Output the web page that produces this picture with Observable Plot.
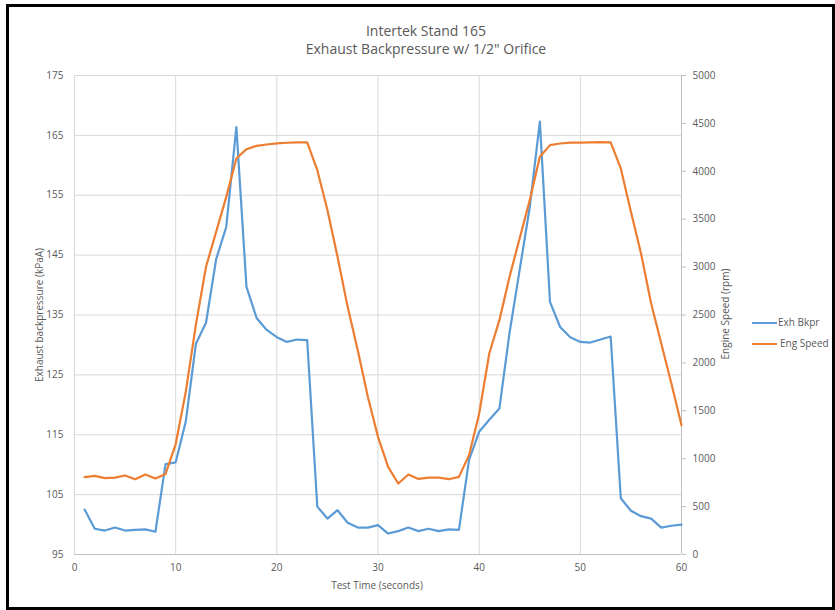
<!DOCTYPE html>
<html><head><meta charset="utf-8">
<script src="https://cdn.jsdelivr.net/npm/d3@7"></script>
<script src="https://cdn.jsdelivr.net/npm/@observablehq/plot@0.6"></script>
<style>
body{margin:0;background:#fff;font-family:"Open Sans",sans-serif;}
#wrap{position:relative;width:835px;height:610px;overflow:hidden;background:#fff;}
#wrap svg{position:absolute;left:0;top:0;}
.t{position:absolute;color:#595959;white-space:nowrap;line-height:1;}
.frame{position:absolute;left:6px;top:4px;width:823px;height:600px;border:3px solid #000;}
.lg{position:absolute;height:2px;}
</style></head><body><div id="wrap"><div class="frame"></div></div>
<script>
const time = [1,2,3,4,5,6,7,8,9,10,11,12,13,14,15,16,17,18,19,20,21,22,23,24,25,26,27,28,29,30,31,32,33,34,35,36,37,38,39,40,41,42,43,44,45,46,47,48,49,50,51,52,53,54,55,56,57,58,59,60];
const exhBkpr = [102.5,99.3,99.0,99.5,99.0,99.1,99.2,98.8,110.1,110.4,
  117.2,130.2,133.7,144.3,149.7,166.4,139.7,134.5,132.5,131.3,
  130.5,130.9,130.8,103.0,101.0,102.4,100.3,99.5,99.5,99.9,
  98.5,98.9,99.5,98.9,99.3,98.9,99.2,99.1,110.8,115.5,
  117.5,119.4,132.0,142.5,153.0,167.3,137.2,133.0,131.3,130.5,
  130.4,130.9,131.4,104.4,102.3,101.4,101.0,99.5,99.8,100.0];
const engSpeed = [807,821,797,803,825,786,835,793,841,1150,
  1700,2400,3003,3368,3733,4134,4231,4266,4280,4291,
  4298,4302,4302,4012,3595,3107,2585,2133,1645,1228,
  914,741,835,789,803,803,786,810,1037,1470,
  2098,2446,2898,3299,3699,4151,4273,4290,4300,4300,
  4302,4305,4301,4030,3577,3142,2620,2203,1785,1350];
const xTicks = [0,10,20,30,40,50,60];
const leftTicks = [95,105,115,125,135,145,155,165,175];
const rpmTicks = [0,500,1000,1500,2000,2500,3000,3500,4000,4500,5000];
const seriesNames = ["Exh Bkpr","Eng Speed"];
const colors = ["#5b9bd5","#ed7d31"];

const yMin = 95, yMax = 175, rpmMax = 5000;
const toLeft = r => yMin + r * (yMax - yMin) / rpmMax;
const data = time.map((t, i) => ({t, exh: exhBkpr[i], rpm: engSpeed[i]}));

const chart = Plot.plot({
  width: 835, height: 610,
  marginLeft: 74, marginRight: 154, marginTop: 75, marginBottom: 56,
  style: {fontFamily: "Open Sans", fontSize: "10px", color: "#595959", background: "transparent"},
  x: {domain: [0, 60]},
  y: {domain: [yMin, yMax]},
  marks: [
    Plot.gridX(xTicks, {stroke: "#d9d9d9", strokeOpacity: 1}),
    Plot.gridY(leftTicks, {stroke: "#d9d9d9", strokeOpacity: 1}),
    Plot.ruleY([yMin], {stroke: "#bfbfbf"}),
    Plot.ruleX([60], {stroke: "#bfbfbf"}),
    Plot.axisX(xTicks, {tickSize: 0, tickPadding: 9, label: null}),
    Plot.axisY(leftTicks, {tickSize: 0, tickPadding: 11, label: null}),
    Plot.axisY(rpmTicks.map(toLeft), {anchor: "right", tickSize: 4, tickPadding: 7, stroke: "#bfbfbf", label: null,
      tickFormat: (v, i) => String(rpmTicks[i])}),
    Plot.line(data, {x: "t", y: "exh", stroke: colors[0], strokeWidth: 2.2}),
    Plot.line(data, {x: "t", y: d => toLeft(d.rpm), stroke: colors[1], strokeWidth: 2.2})
  ]
});
const wrap = document.getElementById("wrap");
wrap.insertBefore(chart, wrap.firstChild);

function addText(txt, css) {
  const d = document.createElement("div");
  d.className = "t"; d.textContent = txt;
  Object.assign(d.style, css);
  wrap.appendChild(d);
  return d;
}
addText("Intertek Stand 165", {left: "426px", top: "24px", fontSize: "14px", transform: "translateX(-50%)"});
addText("Exhaust Backpressure w/ 1/2\" Orifice", {left: "426px", top: "42px", fontSize: "14px", transform: "translateX(-50%)"});
addText("Test Time (seconds)", {left: "377px", top: "580px", fontSize: "10px", transform: "translateX(-50%)"});
addText("Exhaust backpressure (kPaA)", {left: "39px", top: "315px", fontSize: "10px", transform: "translate(-50%,-50%) rotate(-90deg)"});
addText("Engine Speed (rpm)", {left: "725px", top: "314px", fontSize: "10px", transform: "translate(-50%,-50%) rotate(-90deg)"});
// legend
const legY = [323, 344];
seriesNames.forEach((n, i) => {
  const l = document.createElement("div");
  l.className = "lg";
  Object.assign(l.style, {left: "752px", top: (legY[i] - 1) + "px", width: "25px", background: colors[i]});
  wrap.appendChild(l);
  addText(n, {left: (778 + i * 2) + "px", top: (legY[i] - 6) + "px", fontSize: "10px"});
});
</script></body></html>
